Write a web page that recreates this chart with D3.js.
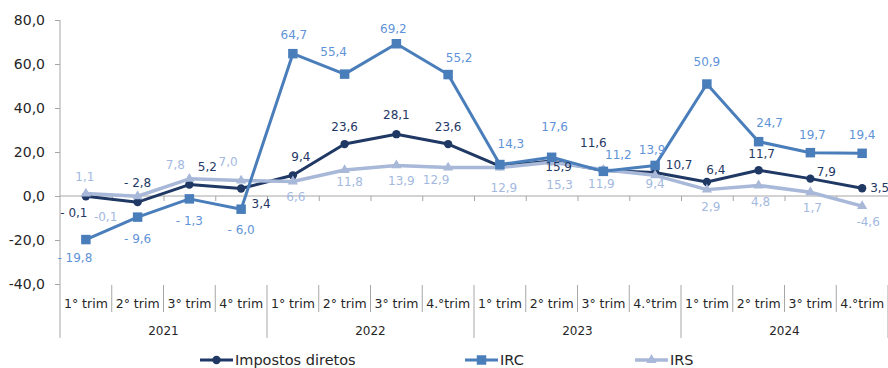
<!DOCTYPE html>
<html>
<head>
<meta charset="utf-8">
<script src="https://cdn.jsdelivr.net/npm/d3@7"></script>
<style>
  html, body { margin: 0; padding: 0; background: #ffffff; }
  svg { display: block; font-family: "DejaVu Sans", sans-serif; }
</style>
</head>
<body>
<svg id="chart" width="888" height="368"></svg>
<script>
// Quarter / year categories
const quarters = ["1° trim", "2° trim", "3° trim", "4° trim",
                  "1° trim", "2° trim", "3° trim", "4.°trim",
                  "1° trim", "2° trim", "3° trim", "4.°trim",
                  "1° trim", "2° trim", "3° trim", "4.°trim"];
const years = ["2021", "2022", "2023", "2024"];
const yTicks = [-40, -20, 0, 20, 40, 60, 80];

// Year-on-year change (%) per quarter
const impostosDiretos = [-0.1, -2.8, 5.2, 3.4, 9.4, 23.6, 28.1, 23.6, 13.6, 15.9, 11.6, 10.7, 6.4, 11.7, 7.9, 3.5];
const irc = [-19.8, -9.6, -1.3, -6.0, 64.7, 55.4, 69.2, 55.2, 14.3, 17.6, 11.2, 13.9, 50.9, 24.7, 19.7, 19.4];
const irs = [1.1, -0.1, 7.8, 7.0, 6.6, 11.8, 13.9, 12.9, 12.9, 15.3, 11.9, 9.4, 2.9, 4.8, 1.7, -4.6];

// Label nudges [dx, dy] relative to each point (null = no label)
const impostosLabelShift = [[-12, 17], [0, -19], [18, -18], [20, 15], [8, -18], [0, -17], [0, -19], [0, -17],
                            null, [7, 6], [-10, -27], [24, -7], [9, -12], [3, -16], [16, -7], ["r", 0]];
const ircLabelShift = [[-11, 18], [0, 22], [0, 22], [0, 21], [1, -19], [-11, -22], [-3, -15], [11, -17],
                       [11, -21], [3, -30], [15, -16], [-3, -15], [0, -22], [11, -19], [2, -18], [0, -18]];
const irsLabelShift = [[-1, -17], [-32, 21], [-14, -14], [-13, -19], [3, 16], [5, 12], [5, 16], [-12, 12],
                       [4, 20], [8, 23], [-2, 14], [0, 9], [4, 17], [2, 17], [2, 16], [6, 16]];

const svg = d3.select("#chart");

const left = 60, right = 888;
const x = d3.scaleBand().domain(d3.range(quarters.length)).range([left, right]).paddingInner(0).paddingOuter(0);
const xEdge = d3.scaleLinear().domain([0, quarters.length]).range([left, right]);
const y = d3.scaleLinear().domain([-40, 80]).range([284, 20]);
const cx = i => x(i) + x.bandwidth() / 2;

const axisColor = "#a6a6a6";
const textColor = "#262626";

// Value axis
const yAxis = svg.append("g")
  .attr("transform", `translate(${left},0)`)
  .call(d3.axisLeft(y).tickValues(yTicks).tickSize(5).tickPadding(10)
    .tickFormat(d => d.toFixed(1).replace(".", ",")));
yAxis.select(".domain").remove();
yAxis.selectAll(".tick line").attr("stroke", axisColor);
yAxis.selectAll(".tick text").attr("fill", textColor).style("font-size", "14px")
  .style("font-family", "DejaVu Sans, sans-serif");

svg.append("line")
  .attr("x1", left).attr("x2", left).attr("y1", y(80)).attr("y2", 338)
  .attr("stroke", axisColor).attr("stroke-width", 1);

// Zero line with category boundary ticks
const xAxis = svg.append("g")
  .attr("transform", `translate(0,${y(0)})`)
  .call(d3.axisBottom(xEdge).tickValues(d3.range(1, quarters.length + 1)).tickSize(5).tickFormat(""));
xAxis.select(".domain").attr("stroke", axisColor).attr("d", `M${left},0H${right}`);
xAxis.selectAll(".tick line").attr("stroke", axisColor);

// Quarter and year category labels
const catG = svg.append("g");
catG.selectAll("text.q").data(quarters).join("text")
  .attr("class", "q")
  .attr("x", (d, i) => cx(i)).attr("y", 303)
  .attr("text-anchor", "middle").attr("dominant-baseline", "central")
  .attr("fill", textColor).style("font-size", "12.5px")
  .text(d => d);

catG.selectAll("line.sep").data(d3.range(1, quarters.length + 1)).join("line")
  .attr("class", "sep")
  .attr("x1", d => xEdge(d)).attr("x2", d => xEdge(d))
  .attr("y1", 285).attr("y2", d => d % 4 === 0 ? 338 : 312)
  .attr("stroke", axisColor).attr("stroke-width", 1);

catG.selectAll("text.yr").data(years).join("text")
  .attr("class", "yr")
  .attr("x", (d, i) => (xEdge(i * 4) + xEdge(i * 4 + 4)) / 2).attr("y", 331)
  .attr("text-anchor", "middle").attr("dominant-baseline", "central")
  .attr("fill", textColor).style("font-size", "12px")
  .text(d => d);

// Series definitions
const fmtSpaced = v => (v < 0 ? "- " : "") + Math.abs(v).toFixed(1).replace(".", ",");
const fmtTight = v => (v < 0 ? "-" : "") + Math.abs(v).toFixed(1).replace(".", ",");

const series = [
  { name: "Impostos diretos", values: impostosDiretos, shift: impostosLabelShift, color: "#1f3864",
    labelColor: "#1f3864", width: 3, marker: "circle", fmt: fmtSpaced },
  { name: "IRS", values: irs, shift: irsLabelShift, color: "#a8b8d8",
    labelColor: "#a3b9df", width: 3.5, marker: "triangle", fmt: fmtTight },
  { name: "IRC", values: irc, shift: ircLabelShift, color: "#4a7ebb",
    labelColor: "#5f93d8", width: 3, marker: "square", fmt: fmtSpaced }
];

const symbolFor = {
  circle: d3.symbol().type(d3.symbolCircle).size(55),
  square: d3.symbol().type(d3.symbolSquare).size(90),
  triangle: d3.symbol().type(d3.symbolTriangle).size(45)
};

const line = d3.line().x((d, i) => cx(i)).y(d => y(d));

series.forEach(s => {
  const g = svg.append("g");
  g.append("path").datum(s.values)
    .attr("d", line).attr("fill", "none")
    .attr("stroke", s.color).attr("stroke-width", s.width)
    .attr("stroke-linejoin", "round");
  g.selectAll("path.mk").data(s.values).join("path")
    .attr("class", "mk")
    .attr("transform", (d, i) => `translate(${cx(i)},${y(d)})`)
    .attr("d", symbolFor[s.marker]())
    .attr("fill", s.color);
});

// Data labels
series.forEach(s => {
  svg.append("g").selectAll("text").data(s.values.map((v, i) => ({ v, i, sh: s.shift[i] })).filter(d => d.sh))
    .join("text")
    .attr("x", d => d.sh[0] === "r" ? cx(d.i) + 8 : cx(d.i) + d.sh[0])
    .attr("y", d => y(d.v) + d.sh[1])
    .attr("text-anchor", d => d.sh[0] === "r" ? "start" : "middle")
    .attr("dominant-baseline", "central")
    .attr("fill", s.labelColor).style("font-size", "12px")
    .text(d => s.fmt(d.v));
});

// Legend
const legendItems = [
  { s: series[0], x0: 200 },
  { s: series[2], x0: 465 },
  { s: series[1], x0: 635 }
];
const lg = svg.append("g");
legendItems.forEach(({ s, x0 }) => {
  const ly = 360;
  lg.append("line").attr("x1", x0).attr("x2", x0 + 33).attr("y1", ly).attr("y2", ly)
    .attr("stroke", s.color).attr("stroke-width", s.width);
  lg.append("path").attr("transform", `translate(${x0 + 16.5},${ly})`)
    .attr("d", symbolFor[s.marker]()).attr("fill", s.color);
  lg.append("text").attr("x", x0 + 35).attr("y", ly)
    .attr("dominant-baseline", "central").attr("fill", textColor)
    .style("font-size", "14.5px").text(s.name);
});
</script>
</body>
</html>
